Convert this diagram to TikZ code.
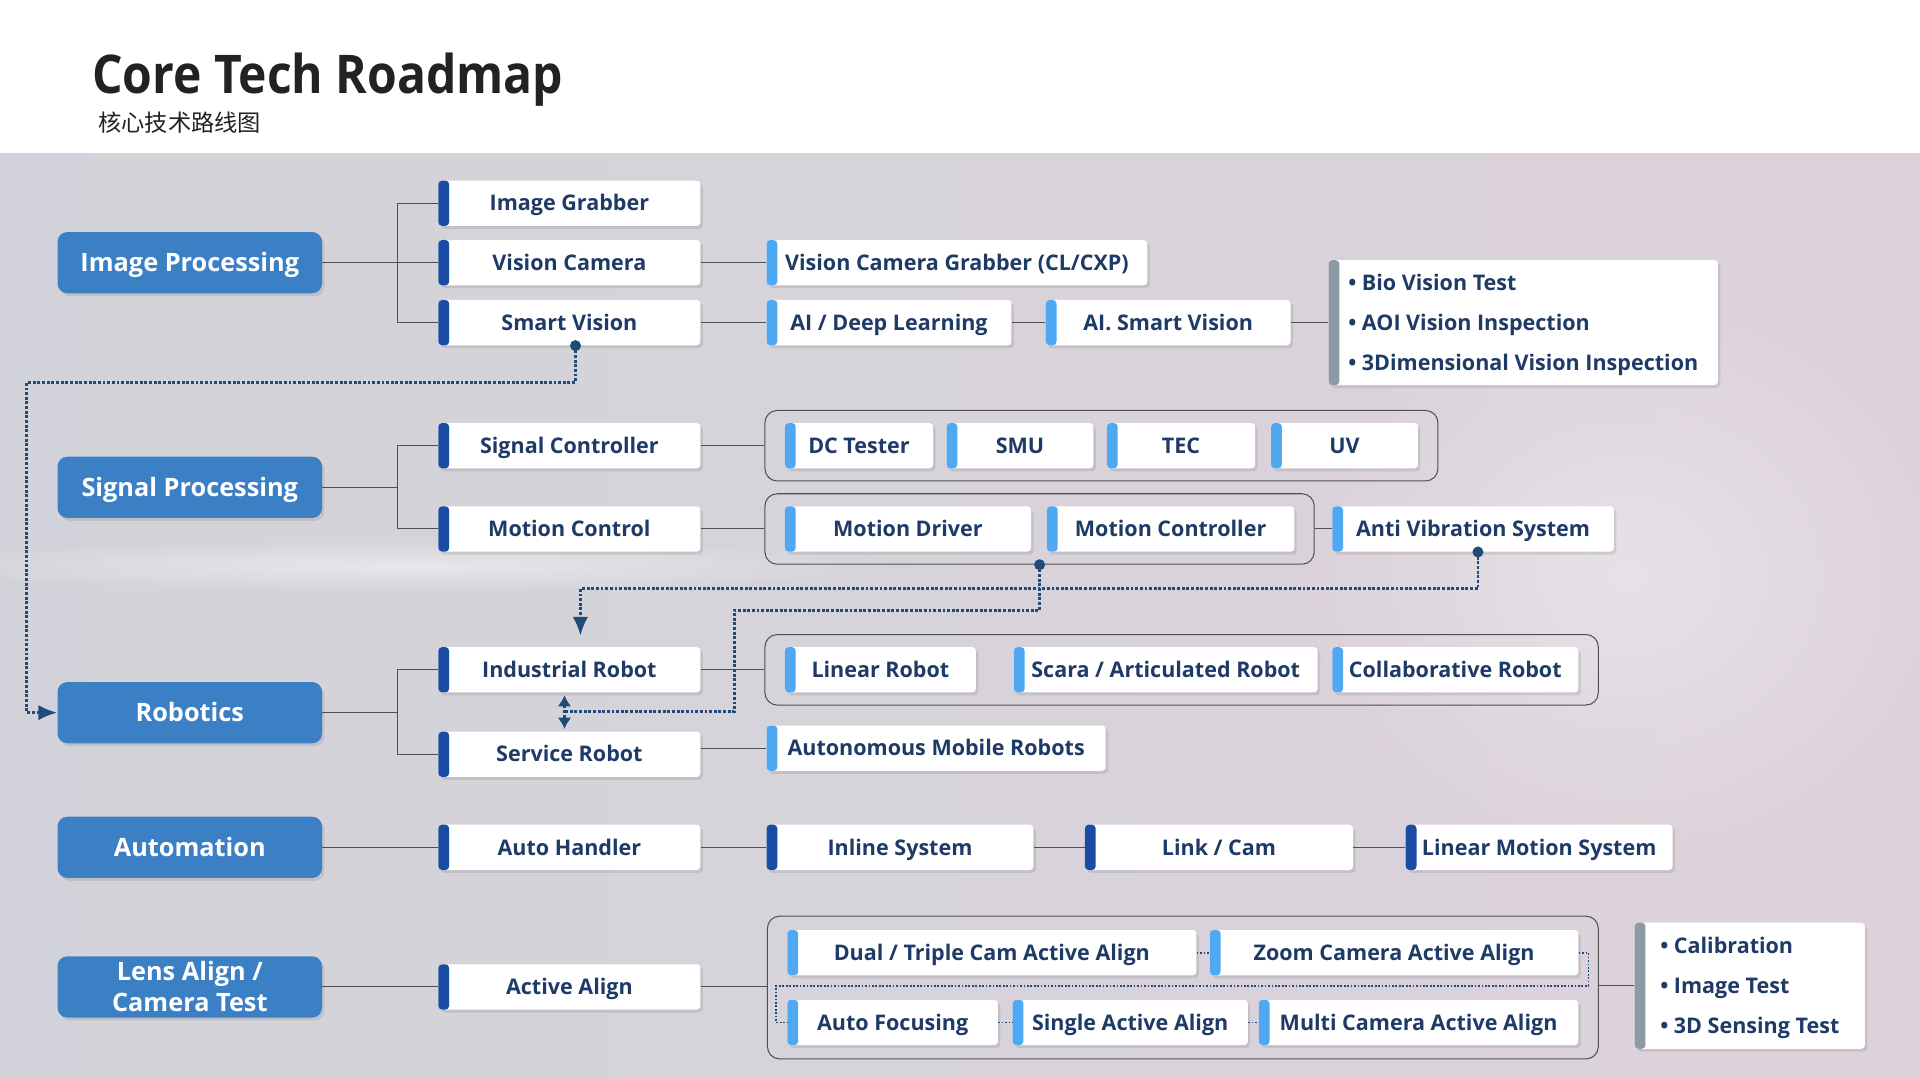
\documentclass[tikz,border=0pt]{standalone}
\usepackage{fontspec}
\setmainfont{Open Sans}
\newfontfamily\ttlfont{Open Sans}[FakeStretch=0.9]
\newfontfamily\cjk{Noto Sans CJK SC}
\usetikzlibrary{shadows,fit,arrows.meta}
\definecolor{catblue}{HTML}{3B80C4}
\definecolor{bardark}{HTML}{1A4CA6}
\definecolor{barlight}{HTML}{4EA9F2}
\definecolor{bargray}{HTML}{8D9AA3}
\definecolor{txt}{HTML}{1E3A66}
\definecolor{linkgray}{HTML}{505050}
\definecolor{dotnavy}{HTML}{1F4A7A}
\definecolor{bgl}{HTML}{D2D3DA}
\definecolor{bgr}{HTML}{DDD2DB}
\definecolor{ttlgray}{HTML}{222222}
\newcommand\pxu{0.025cm}
\begin{document}
\begin{tikzpicture}[x=\pxu, y=-\pxu, >={Latex[length=11pt,width=9pt]},
	shd/.style={drop shadow={shadow xshift=0.05cm, shadow yshift=-0.06cm, opacity=0.22}},
	cat/.style={shd, fill=catblue, rounded corners=0.2cm, minimum width=216*\pxu, minimum height=50*\pxu, text=white, align=center, text height=10.5pt, text depth=0pt, font=\fontsize{14.7}{17.5}\selectfont\bfseries},
	bar/.style={path picture={\fill[#1] (path picture bounding box.north west) rectangle ([xshift=0.22cm]path picture bounding box.south west);}},
	box/.style={shd, fill=white, rounded corners=0.075cm, text=txt, inner xsep=0pt, minimum height=37*\pxu, text height=8.9pt, text depth=0pt, font=\fontsize{12.5}{15}\selectfont\bfseries},
	lvtwo/.style={box, bar=bardark, minimum width=214*\pxu},
	lvthree/.style={box, bar=barlight},
	lvdark/.style={box, bar=bardark},
	list/.style={box, bar=bargray, align=left, text height=55pt, font=\fontsize{12.5}{23}\selectfont\bfseries},
	w/.style={minimum width=#1*\pxu},
	grp/.style={draw=linkgray, line width=0.6pt, rounded corners=0.25cm, inner xsep=16*\pxu, inner ysep=10*\pxu},
	link/.style={draw=linkgray, line width=0.6pt},
	dlink/.style={draw=dotnavy, line width=1.7pt, densely dotted},
	sdlink/.style={draw=dotnavy, line width=1pt, densely dotted}]
	\fill[white] (0,0) rectangle (1568,125);
	\shade[left color=bgl, right color=bgr] (0,125) rectangle (1568,880);
	\begin{scope}
		\clip (0,125) rectangle (1568,880);
		\shade[inner color=white, outer color=bgl, opacity=0.45] (330,462) ellipse[x radius=420, y radius=22];
		\shade[inner color=white, outer color=bgr, opacity=0.35] (1330,470) ellipse[x radius=260, y radius=230];
	\end{scope}
	\useasboundingbox (0,0) rectangle (1568,880);

	\node[anchor=base west, inner sep=0pt, text=ttlgray, font=\ttlfont\fontsize{31}{36}\selectfont\bfseries] (title) at (75,76) {Core Tech Roadmap};
	\node[anchor=base west, inner sep=0pt, text=ttlgray, font=\cjk\fontsize{13.5}{16}\selectfont] (subtitle) at (80,107) {核心技术路线图};

	\node[cat] (ip) at (155,214.5) {Image Processing};
	\node[cat] (sp) at (155,398) {Signal Processing};
	\node[cat] (rb) at (155,582) {Robotics};
	\node[cat] (au) at (155,692) {Automation};
	\node[cat, text height=28pt] (la) at (155,806) {Lens Align /\\Camera Test};

	\node[lvtwo] (ig) at (465,166) {Image Grabber};
	\node[lvtwo] (vc) at (465,214.5) {Vision Camera};
	\node[lvtwo] (sv) at (465,263.5) {Smart Vision};
	\node[lvtwo] (sc) at (465,364) {Signal Controller};
	\node[lvtwo] (mc) at (465,432) {Motion Control};
	\node[lvtwo] (ir) at (465,547) {Industrial Robot};
	\node[lvtwo] (sr) at (465,616) {Service Robot};
	\node[lvtwo] (ah) at (465,692) {Auto Handler};
	\node[lvtwo] (aa) at (465,806) {Active Align};

	\node[lvthree, w=311] (vcg) at (781.5,214.5) {Vision Camera Grabber (CL/CXP)};
	\node[lvthree, w=200] (adl) at (726,263.5) {AI / Deep Learning};
	\node[lvthree, w=200] (asv) at (954,263.5) {AI. Smart Vision};
	\node[list, w=318, minimum height=102*\pxu] (vlist) at (1244,263.5) {• Bio Vision Test\\• AOI Vision Inspection\\• 3Dimensional Vision Inspection};

	\node[lvthree, w=121] (dct) at (701.5,364) {DC Tester};
	\node[lvthree, w=120] (smu) at (833,364) {SMU};
	\node[lvthree, w=121] (tec) at (964.5,364) {TEC};
	\node[lvthree, w=120] (uv) at (1098,364) {UV};
	\node[grp, fit=(dct)(uv)] (gsig) {};

	\node[lvthree, w=201] (mdr) at (741.5,432) {Motion Driver};
	\node[lvthree, w=202] (mct) at (956,432) {Motion Controller};
	\node[grp, fit=(mdr)(mct)] (gmot) {};
	\node[lvthree, w=230] (avs) at (1203,432) {Anti Vibration System};

	\node[lvthree, w=156] (lr) at (719,547) {Linear Robot};
	\node[lvthree, w=248] (sar) at (952,547) {Scara / Articulated Robot};
	\node[lvthree, w=201] (cr) at (1188.5,547) {Collaborative Robot};
	\node[grp, fit=(lr)(cr)] (grob) {};
	\node[lvthree, w=277] (amr) at (764.5,611) {Autonomous Mobile Robots};

	\node[lvdark, w=218] (ins) at (735,692) {Inline System};
	\node[lvdark, w=219] (lc) at (995.5,692) {Link / Cam};
	\node[lvdark, w=218] (lms) at (1257,692) {Linear Motion System};

	\node[lvthree, w=334] (dta) at (810,778) {Dual / Triple Cam Active Align};
	\node[lvthree, w=301] (zca) at (1138.5,778) {Zoom Camera Active Align};
	\node[lvthree, w=172] (af) at (729,835) {Auto Focusing};
	\node[lvthree, w=192] (saa) at (923,835) {Single Active Align};
	\node[lvthree, w=261] (mca) at (1158.5,835) {Multi Camera Active Align};
	\node[grp, inner ysep=11*\pxu, fit=(dta)(mca)] (glens) {};
	\node[list, w=188, minimum height=103*\pxu] (clist) at (1429,805) {• Calibration\\• Image Test\\• 3D Sensing Test};

	\draw[link] (ip.east) -- (vc.west);
	\draw[link] (ig.west) -- ++(-33,0) |- (sv.west);
	\draw[link] (vc.east) -- (vcg.west);
	\draw[link] (sv.east) -- (adl.west);
	\draw[link] (adl) -- (asv) -- (vlist);
	\draw[link] (sp.east) -- ++(62,0);
	\draw[link] (sc.west) -- ++(-33,0) |- (mc.west);
	\draw[link] (sc.east) -- (sc.east -| gsig.west);
	\draw[link] (mc.east) -- (mc.east -| gmot.west);
	\draw[link] (gmot.east |- avs.west) -- (avs.west);
	\draw[link] (rb.east) -- ++(62,0);
	\draw[link] (ir.west) -- ++(-33,0) |- (sr.west);
	\draw[link] (ir.east) -- (ir.east -| grob.west);
	\draw[link] (sr.east |- amr.west) -- (amr.west);
	\draw[link] (au) -- (ah) -- (ins) -- (lc) -- (lms);
	\draw[link] (la) -- (aa);
	\draw[link] (aa.east) -- (aa.east -| glens.west);
	\draw[link] (glens.east |- clist.west) -- (clist.west);

	\coordinate (svd) at ([xshift=5*\pxu]sv.south);
	\coordinate (avd) at ([xshift=4*\pxu]avs.south);
	\coordinate (irb) at ([xshift=-4*\pxu, yshift=-2*\pxu]ir.south);
	\coordinate (srt) at ([xshift=-4*\pxu, yshift=2*\pxu]sr.north);
	\draw[dlink, ->] (svd) -- ++(0,30) -| (22,582) -- (rb.west);
	\draw[dlink, ->] (avd) -- ++(0,30) -| ([xshift=9*\pxu, yshift=9*\pxu]ir.north);
	\draw[dlink] (gmot.south) -- ++(0,37) -| (600,581) -- (irb |- 0,581);
	\draw[dlink, {Latex[length=6.5pt,width=8pt]}-{Latex[length=6.5pt,width=8pt]}] (irb) -- (srt);
	\fill[dotnavy] (svd) circle[radius=4.5];
	\fill[dotnavy] (avd) circle[radius=4.5];
	\fill[dotnavy] (gmot.south) circle[radius=4.5];

	\draw[sdlink] (dta) -- (zca);
	\draw[sdlink] (zca.east) -- ++(8,0) |- (634,805) |- (af.west);
	\draw[sdlink] (af) -- (saa) -- (mca);
\end{tikzpicture}
\end{document}
